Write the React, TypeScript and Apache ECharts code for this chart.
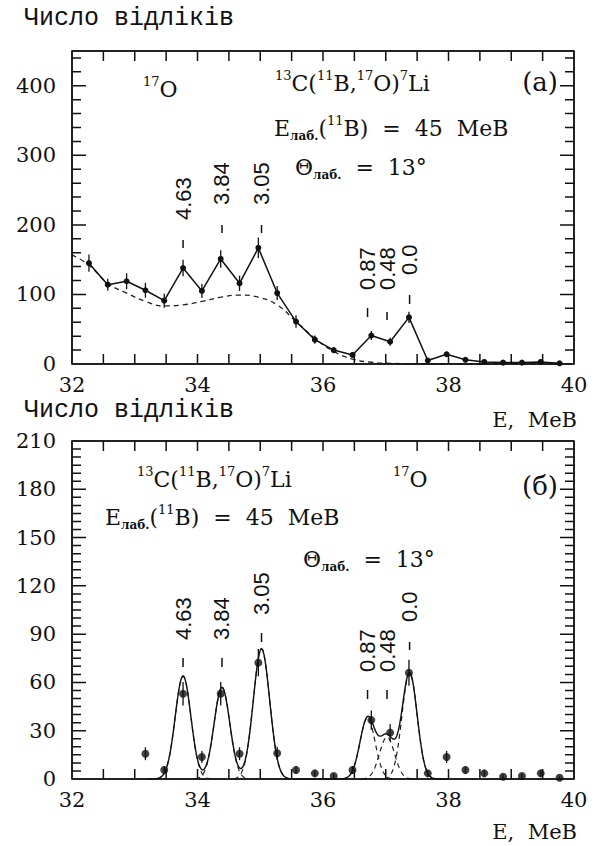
import React, { useEffect, useRef } from 'react';
import * as echarts from 'echarts';

// ---------- data ----------
// Panel (a): measured spectrum
const topEnergy = [32.27, 32.57, 32.87, 33.17, 33.47, 33.77, 34.07, 34.37, 34.67, 34.97, 35.27, 35.57, 35.87, 36.17, 36.47, 36.77, 37.07, 37.37, 37.67, 37.97, 38.27, 38.57, 38.87, 39.17, 39.47, 39.77];
const topCounts = [145, 114, 119, 106, 91, 138, 105, 151, 116, 167, 102, 61, 35, 20, 13, 41, 32, 67, 5, 14, 6, 3, 2, 2, 3, 1];
const topErrors = [12.5, 8.6, 11.5, 10.8, 10, 12, 10, 12.7, 11, 14.8, 10, 9, 6, 4.5, 3.6, 6.4, 5.7, 8.2, 2.2, 3.8, 2.4, 1.8, 1.4, 1.4, 1.8, 1];
// Panel (a): background (dashed)
const bgEnergy = [32.0, 32.27, 32.57, 32.87, 33.17, 33.47, 33.77, 34.07, 34.37, 34.67, 34.97, 35.27, 35.57, 35.87, 36.17, 36.47, 36.77, 37.07, 37.5, 38.0, 39.0, 40.0];
const bgCounts = [157, 142, 116, 102, 90, 83.5, 85, 90, 96, 99, 96, 85, 61, 37, 18, 7, 2.5, 1, 0.5, 0.3, 0.2, 0.1];

// Panel (б): background-subtracted spectrum
const botEnergy = [33.17, 33.47, 33.77, 34.07, 34.37, 34.67, 34.97, 35.27, 35.57, 35.87, 36.17, 36.47, 36.77, 37.07, 37.37, 37.67, 37.97, 38.27, 38.57, 38.87, 39.17, 39.47, 39.77];
const botCounts = [15.7, 5.6, 53, 13.7, 53, 15.7, 72.3, 16, 5.6, 3.5, 1.9, 5.6, 36.6, 28.8, 66, 3.5, 13.7, 5.6, 3.5, 1.4, 1.9, 3.5, 0.8];
const botErrors = [4, 2.4, 7.3, 3.7, 7.3, 4, 8.5, 4, 2.4, 1.9, 1.4, 2.4, 6, 5.4, 8.1, 1.9, 3.7, 2.4, 1.9, 1.2, 1.4, 1.9, 0.9];

// Excited states of 17O (MeV) and fitted Gaussian peaks
const peakNames = ['4.63', '3.84', '3.05', '0.87', '0.48', '0.0'];
const peakEnergy = [33.77, 34.39, 35.02, 36.71, 37.02, 37.38];
const fitHeights = [64, 57, 81, 38, 26, 66];
const fitSigma = [0.125, 0.125, 0.13, 0.12, 0.12, 0.12];

// axes
const X_MIN = 32, X_MAX = 40, X_STEP = 0.5;
const xTickLabels = [32, 34, 36, 38, 40];
const TOP_Y_MAX = 450, TOP_Y_STEP = 20, TOP_Y_MAJOR = 100;
const topYLabels = [0, 100, 200, 300, 400];
const BOT_Y_MAX = 210, BOT_Y_STEP = 5, BOT_Y_MAJOR = 30;
const botYLabels = [0, 30, 60, 90, 120, 150, 180, 210];

// ---------- styles / layout ----------
const SERIF = "'DejaVu Serif', 'Liberation Serif', serif";
const SANS = "'Liberation Sans', 'DejaVu Sans', sans-serif";
const MONO = "'Liberation Mono', 'DejaVu Sans Mono', monospace";
const INK = '#111';
const FRAME = '#222';

const GRID_TOP = { left: 72, top: 51, width: 502, height: 313 };
const GRID_BOT = { left: 72, top: 441, width: 502, height: 338 };
const MAJOR_LEN = 14, MINOR_LEN = 9, X_LEN = 10;

// label layout (pixels) for the peak markers: [text bottom, tick top, tick bottom]
const topPeakLayout = [[220, 240, 248], [205, 225, 233], [205, 225, 233], [290, 308, 317], [290, 312, 320], [275, 295, 304]];
const botPeakLayout = [[640, 658, 667], [640, 658, 667], [615, 633, 642], [672, 690, 699], [672, 690, 699], [622, 642, 650]];

const gauss = (x: number, i: number) =>
  fitHeights[i] * Math.exp(-((x - peakEnergy[i]) ** 2) / (2 * fitSigma[i] ** 2));

const ls = () => ({ color: FRAME, width: 1.5, type: 'solid' });

function xAxis(grid: number, position: string, labels: boolean) {
  return {
    type: 'value', gridIndex: grid, position, min: X_MIN, max: X_MAX, interval: X_STEP,
    axisLine: { show: true, onZero: false, lineStyle: ls() },
    axisTick: { show: false },
    minorTick: { show: false },
    splitLine: { show: false }, minorSplitLine: { show: false },
    axisLabel: {
      show: labels, margin: 10, color: INK, fontFamily: SERIF, fontSize: 21,
      formatter: (v: number) => (xTickLabels.includes(v) ? String(v) : ''),
    },
  };
}

function yAxis(grid: number, position: string, max: number, interval: number, labels: number[] | null) {
  return {
    type: 'value', gridIndex: grid, position, min: 0, max, interval,
    axisLine: { show: true, onZero: false, lineStyle: ls() },
    axisTick: { show: false },
    minorTick: { show: false },
    splitLine: { show: false }, minorSplitLine: { show: false },
    axisLabel: {
      show: !!labels, margin: 16, color: INK, fontFamily: SERIF, fontSize: 21,
      formatter: (v: number) => (labels && labels.includes(v) ? String(v) : ''),
    },
  };
}

const errRender = (params: any, api: any) => {
  const x = api.value(0), y = api.value(1), e = api.value(2);
  const a = api.coord([x, Math.max(0, y - e)]);
  const b = api.coord([x, y + e]);
  return { type: 'line', shape: { x1: a[0], y1: a[1], x2: b[0], y2: b[1] }, style: { stroke: INK, lineWidth: 1.3 } };
};

const rich = {
  n: { fontFamily: SERIF, fontSize: 22, lineHeight: 28, color: INK, verticalAlign: 'middle' },
  sup: { fontFamily: SERIF, fontSize: 13, lineHeight: 13, color: INK, verticalAlign: 'top' },
  sub: { fontFamily: SERIF, fontSize: 12, fontWeight: 'bold', lineHeight: 16, color: INK, verticalAlign: 'bottom' },
};

function richText(x: number, y: number, text: string) {
  return { type: 'text', x, y, silent: true, style: { text, rich, align: 'left', verticalAlign: 'top', fill: INK } };
}
function plainText(x: number, y: number, text: string, size: number, align: string, family = SERIF) {
  return { type: 'text', x, y, silent: true, style: { text, fontFamily: family, fontSize: size, fill: INK, align, verticalAlign: 'middle' } };
}
function seg(x1: number, y1: number, x2: number, y2: number, color = FRAME) {
  return { type: 'line', silent: true, z: 50, shape: { x1, y1, x2, y2 }, style: { stroke: color, lineWidth: 1.5 } };
}
function comb(points: number[][]) {
  return { type: 'polyline', silent: true, z: 60, shape: { points }, style: { stroke: INK, lineWidth: 1.5, fill: null } };
}

export default function App() {
  const ref = useRef<HTMLDivElement>(null);
  useEffect(() => {
    const chart = echarts.init(ref.current!, null, { renderer: 'svg' });

    const sumCurve: number[][] = [];
    for (let k = 0; k <= 240; k++) {
      const x = 33.2 + k * 0.02;
      let s = 0;
      for (let i = 0; i < peakEnergy.length; i++) s += gauss(x, i);
      sumCurve.push([x, s]);
    }
    const peakCurves = peakEnergy.map((c, i) => {
      const pts: number[][] = [];
      for (let k = -40; k <= 40; k++) {
        const x = c + (k / 40) * 3.4 * fitSigma[i];
        pts.push([x, gauss(x, i)]);
      }
      return pts;
    });

    const option: any = {
      animation: false,
      backgroundColor: '#fff',
      grid: [
        { ...GRID_TOP, containLabel: false },
        { ...GRID_BOT, containLabel: false },
      ],
      xAxis: [xAxis(0, 'bottom', true), xAxis(0, 'top', false), xAxis(1, 'bottom', true), xAxis(1, 'top', false)],
      yAxis: [
        yAxis(0, 'left', TOP_Y_MAX, TOP_Y_STEP, topYLabels),
        yAxis(0, 'right', TOP_Y_MAX, TOP_Y_STEP, null),
        yAxis(1, 'left', BOT_Y_MAX, BOT_Y_MAJOR, botYLabels),
        yAxis(1, 'right', BOT_Y_MAX, BOT_Y_MAJOR, null),
      ],
      series: [
        {
          type: 'line', xAxisIndex: 0, yAxisIndex: 0, smooth: 0.45, symbol: 'none',
          data: bgEnergy.map((e, i) => [e, bgCounts[i]]),
          lineStyle: { color: '#222', width: 1.3, type: [5, 4] }, z: 2,
        },
        {
          type: 'custom', xAxisIndex: 0, yAxisIndex: 0, renderItem: errRender, encode: { x: 0, y: 1 },
          data: topEnergy.map((e, i) => [e, topCounts[i], topErrors[i]]), z: 3,
        },
        {
          type: 'line', xAxisIndex: 0, yAxisIndex: 0, symbol: 'circle', symbolSize: 6,
          data: topEnergy.map((e, i) => [e, topCounts[i]]),
          itemStyle: { color: INK }, lineStyle: { color: INK, width: 1.5 }, z: 4,
        },
        ...peakCurves.map((pts) => ({
          type: 'line', xAxisIndex: 2, yAxisIndex: 2, symbol: 'none', smooth: false, data: pts,
          lineStyle: { color: '#222', width: 1.2, type: [5, 4] }, z: 2,
        })),
        {
          type: 'line', xAxisIndex: 2, yAxisIndex: 2, symbol: 'none', data: sumCurve,
          lineStyle: { color: INK, width: 1.4 }, z: 3,
        },
        {
          type: 'custom', xAxisIndex: 2, yAxisIndex: 2, renderItem: errRender, encode: { x: 0, y: 1 },
          data: botEnergy.map((e, i) => [e, botCounts[i], botErrors[i]]), z: 4,
        },
        {
          type: 'scatter', xAxisIndex: 2, yAxisIndex: 2, symbol: 'circle', symbolSize: 8,
          data: botEnergy.map((e, i) => [e, botCounts[i]]), itemStyle: { color: INK }, z: 5,
        },
      ],
    };
    chart.setOption(option);

    const graphics: any[] = [];

    // frame ticks on all four sides, drawn as one comb per side
    const addFrameTicks = (xi: number, yi: number, yMax: number, yStep: number, yMajor: number) => {
      const pt = (x: number, y: number) =>
        chart.convertToPixel({ xAxisIndex: xi, yAxisIndex: yi }, [x, y]) as number[];
      const bottom: number[][] = [];
      const top: number[][] = [];
      const left: number[][] = [];
      const right: number[][] = [];
      const nx = Math.round((X_MAX - X_MIN) / X_STEP);
      for (let k = 0; k <= nx; k++) {
        const v = X_MIN + k * X_STEP;
        const b = pt(v, 0);
        const t = pt(v, yMax);
        if (k > 0 && k < nx) {
          bottom.push([b[0], b[1]], [b[0], b[1] - X_LEN], [b[0], b[1]]);
          top.push([t[0], t[1]], [t[0], t[1] + X_LEN], [t[0], t[1]]);
        } else {
          bottom.push([b[0], b[1]]);
          top.push([t[0], t[1]]);
        }
      }
      const ny = Math.ceil(yMax / yStep);
      for (let k = 0; k <= ny; k++) {
        const v = Math.min(k * yStep, yMax);
        const l = pt(X_MIN, v);
        const r = pt(X_MAX, v);
        if (k > 0 && v < yMax) {
          const q = v / yMajor;
          const len = Math.abs(q - Math.round(q)) < 1e-9 ? MAJOR_LEN : MINOR_LEN;
          left.push([l[0], l[1]], [l[0] + len, l[1]], [l[0], l[1]]);
          right.push([r[0], r[1]], [r[0] - len, r[1]], [r[0], r[1]]);
        } else {
          left.push([l[0], l[1]]);
          right.push([r[0], r[1]]);
        }
      }
      graphics.push(comb(bottom), comb(top), comb(left), comb(right));
    };
    addFrameTicks(0, 0, TOP_Y_MAX, TOP_Y_STEP, TOP_Y_MAJOR);
    addFrameTicks(2, 2, BOT_Y_MAX, BOT_Y_STEP, BOT_Y_MAJOR);

    // axis titles
    graphics.push(plainText(24, 18.5, 'Число відліків', 25, 'left', MONO));
    graphics.push(plainText(577, 420, 'E,  MeB', 21, 'right'));
    graphics.push(plainText(24, 410, 'Число відліків', 25, 'left', MONO));
    graphics.push(plainText(577, 832, 'E,  MeB', 21, 'right'));
    // panel (a) annotations
    graphics.push(richText(143, 75, '{sup|17}{n|O}'));
    graphics.push(richText(275, 69, '{sup|13}{n|C(}{sup|11}{n|B,}{sup|17}{n|O)}{sup|7}{n|Li}'));
    graphics.push(plainText(558, 81.5, '(a)', 26, 'right'));
    graphics.push(richText(274, 114, '{n|E}{sub|лаб.}{n|(}{sup|11}{n|B)  =  45  MeB}'));
    graphics.push(richText(295, 153, '{n|Θ}{sub|лаб.}{n|  =  13°}'));
    // panel (б) annotations
    graphics.push(richText(137, 465, '{sup|13}{n|C(}{sup|11}{n|B,}{sup|17}{n|O)}{sup|7}{n|Li}'));
    graphics.push(richText(393, 465, '{sup|17}{n|O}'));
    graphics.push(plainText(558, 486, '(б)', 26, 'right'));
    graphics.push(richText(105, 503, '{n|E}{sub|лаб.}{n|(}{sup|11}{n|B)  =  45  MeB}'));
    graphics.push(richText(303, 545, '{n|Θ}{sub|лаб.}{n|  =  13°}'));

    // peak markers
    const addPeaks = (axisIndex: number, layout: number[][]) => {
      peakEnergy.forEach((e, i) => {
        const px = chart.convertToPixel({ xAxisIndex: axisIndex }, e) as number;
        const [textBottom, t1, t2] = layout[i];
        graphics.push({
          type: 'text', x: px, y: textBottom, rotation: Math.PI / 2, silent: true,
          style: { text: peakNames[i], fontFamily: SANS, fontSize: 22, fill: INK, align: 'left', verticalAlign: 'middle' },
        });
        graphics.push(seg(px, t1, px, t2, INK));
      });
    };
    addPeaks(0, topPeakLayout);
    addPeaks(2, botPeakLayout);

    chart.setOption({ graphic: { elements: graphics } });
    return () => chart.dispose();
  }, []);
  return (
    <div
      ref={ref}
      style={{ position: 'absolute', left: 0, top: 0, width: 597, height: 846, background: '#fff' }}
    />
  );
}
